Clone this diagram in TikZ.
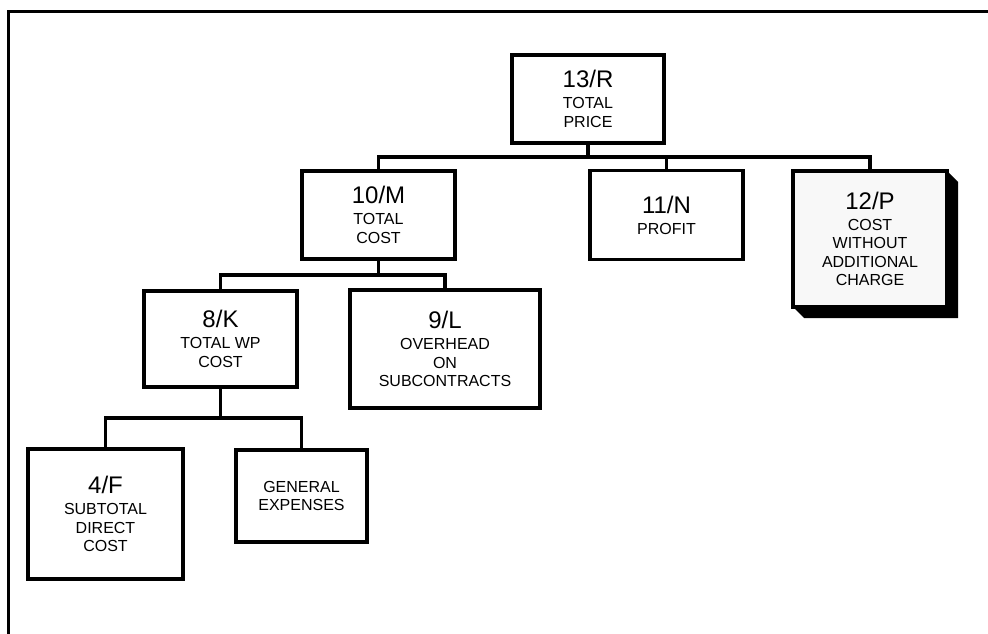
\documentclass[tikz,border=0pt]{standalone}
\usepackage{fontspec}
\setmainfont{Liberation Sans}
\definecolor{shadebox}{HTML}{F8F8F8}
\newcommand\numlbl[1]{{\fontsize{24}{24}\selectfont #1}\\[2.5pt]}
\tikzset{
  treebox/.style={draw, line width=3.2pt, fill=white, inner sep=0pt, align=center,
    font=\fontsize{16}{18.5}\selectfont},
  link/.style={line width=3.2pt, line cap=rect},
  frameline/.style={line width=3pt},
}
\begin{document}
\begin{tikzpicture}[x=1pt, y=-1pt]
\useasboundingbox (0,0) rectangle (988,634);
\draw[frameline] (8,640) -- (8,12) -- (992,12);

% shadow of 12/P
\fill[black] (947,171) -- (958,182) -- (958,318) -- (804,318) -- (793,307) -- cycle;

\node[treebox, minimum width=152pt, minimum height=88pt] (R) at (588,99) {\numlbl{13/R}TOTAL\\PRICE};
\node[treebox, minimum width=153pt, minimum height=88pt] (M) at (378.5,215) {\numlbl{10/M}TOTAL\\COST};
\node[treebox, minimum width=153pt, minimum height=89pt] (N) at (666.5,215) {\numlbl{11/N}PROFIT};
\node[treebox, fill=shadebox, minimum width=154pt, minimum height=136pt] (P) at (870,239) {\numlbl{12/P}COST\\WITHOUT\\ADDITIONAL\\CHARGE};
\node[treebox, minimum width=153pt, minimum height=96pt] (K) at (220.5,339) {\numlbl{8/K}TOTAL WP\\COST};
\node[treebox, minimum width=190pt, minimum height=118pt] (L) at (445,349) {\numlbl{9/L}OVERHEAD\\ON\\SUBCONTRACTS};
\node[treebox, minimum width=155pt, minimum height=130pt] (F) at (105.5,514) {\numlbl{4/F}SUBTOTAL\\DIRECT\\COST};
\node[treebox, minimum width=131pt, minimum height=92pt] (G) at (301.5,496) {GENERAL\\EXPENSES};

\coordinate (busR) at (588,157);
\coordinate (busM) at (378.5,275);
\coordinate (busK) at (220.5,418);

\draw[link] (R.south) -- (busR);
\draw[link] (M.north) |- (busR);
\draw[link] (N.north) |- (busR);
\draw[link] (P.north) |- (busR);

\draw[link] (M.south) -- (busM);
\draw[link] (K.north) |- (busM);
\draw[link] (L.north) |- (busM);

\draw[link] (K.south) -- (busK);
\draw[link] (F.north) |- (busK);
\draw[link] (G.north) |- (busK);
\end{tikzpicture}
\end{document}
